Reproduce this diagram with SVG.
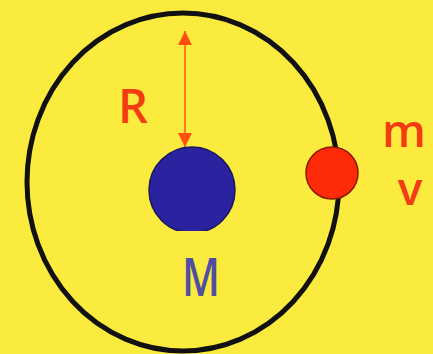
<svg xmlns="http://www.w3.org/2000/svg" width="433" height="354" viewBox="0 0 433 354">
<defs>
<style>
.lbl{font-family:"Open Sans","Noto Sans",sans-serif;font-weight:600;}
.red{fill:#f23c12;}
</style>
<marker id="ah" viewBox="0 0 10 10" refX="10" refY="5" markerWidth="7" markerHeight="8" orient="auto-start-reverse" markerUnits="strokeWidth">
<path d="M0,0 L10,5 L0,10 z" fill="#ff5010"/>
</marker>
<clipPath id="mclip"><rect x="0" y="0" width="433" height="231"/></clipPath>
</defs>
<rect width="433" height="354" fill="#fbeb3e"/>
<g id="orbit"><ellipse cx="183" cy="182" rx="156" ry="169" fill="none" stroke="#111" stroke-width="5"/></g>
<g id="connectors"><line x1="185" y1="31" x2="185" y2="147" stroke="#ff7a20" stroke-width="2" marker-start="url(#ah)" marker-end="url(#ah)"/></g>
<g id="planet-M"><circle cx="192" cy="190" r="43" fill="#2a229e" stroke="#1a1660" stroke-width="1.5" clip-path="url(#mclip)"/>
<text class="lbl" x="201" y="296" font-size="52" fill="#4f4ea0" text-anchor="middle" textLength="38" lengthAdjust="spacingAndGlyphs">M</text></g>
<g id="label-R"><text class="lbl red" x="133" y="123" font-size="47" text-anchor="middle">R</text></g>
<g id="satellite-m"><circle cx="332" cy="173" r="26" fill="#ff2a08" stroke="#8a1a00" stroke-width="1.5"/>
<text class="lbl red" x="404" y="147" font-size="46" text-anchor="middle">m</text>
<text class="lbl red" x="410" y="205" font-size="46" text-anchor="middle">v</text></g>
</svg>
